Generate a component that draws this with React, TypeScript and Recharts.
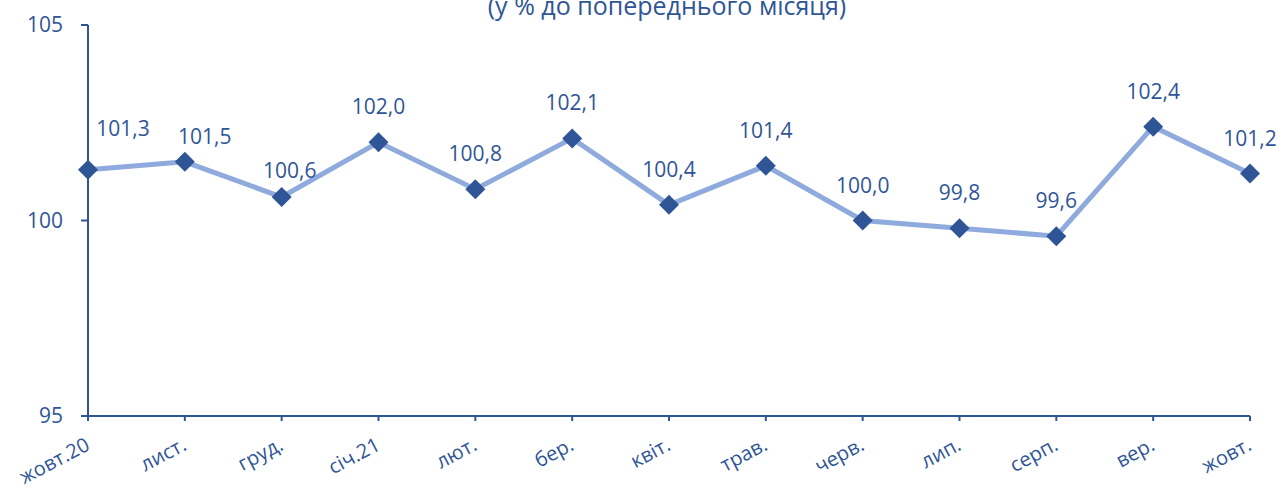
import React from "react"
import { LineChart, Line, XAxis, YAxis, LabelList } from "recharts"

// Індекс місячної зміни (у % до попереднього місяця)
const months = [
  "жовт.20",
  "лист.",
  "груд.",
  "січ.21",
  "лют.",
  "бер.",
  "квіт.",
  "трав.",
  "черв.",
  "лип.",
  "серп.",
  "вер.",
  "жовт.",
]
const values = [101.3, 101.5, 100.6, 102.0, 100.8, 102.1, 100.4, 101.4, 100.0, 99.8, 99.6, 102.4, 101.2]
const yTicks = [95, 100, 105]

const TEXT = "#2F5597"
const LINE = "#8FAADC"
const FONT = "'Open Sans', sans-serif"

// small nudges for labels that Excel pushed aside
const labelNudge: Record<number, { dx: number; dy: number }> = {
  0: { dx: 35, dy: -6 },
  1: { dx: 20, dy: 10 },
  2: { dx: 8, dy: 9 },
}

const data = months.map((m, i) => ({ month: m, value: values[i] }))

const Diamond = (props: any) => {
  const { cx, cy } = props
  if (cx == null || cy == null) return null
  const r = 10
  return (
    <path
      d={`M${cx},${cy - r} L${cx + r},${cy} L${cx},${cy + r} L${cx - r},${cy} Z`}
      fill={TEXT}
    />
  )
}

const ValueLabel = (props: any) => {
  const { x, y, value, index } = props
  const n = labelNudge[index] ?? { dx: 0, dy: 0 }
  return (
    <text
      x={x + n.dx}
      y={y - 28 + n.dy}
      textAnchor="middle"
      fill={TEXT}
      fontSize={21}
      fontFamily={FONT}
    >
      {Number(value).toFixed(1).replace(".", ",")}
    </text>
  )
}

const MonthTick = (props: any) => {
  const { x, y, payload } = props
  return (
    <g transform={`translate(${x + 3},${y + 28})`}>
      <text
        textAnchor="end"
        transform="rotate(-28)"
        fill={TEXT}
        fontSize={20}
        fontFamily={FONT}
      >
        {payload.value}
      </text>
    </g>
  )
}

export default function App() {
  return (
    <div style={{ position: "absolute", left: 0, top: 0, width: 1284, height: 488, background: "#fff", overflow: "hidden" }}>
      <div
        style={{
          position: "absolute",
          left: 0,
          width: 1284,
          top: -10,
          textAlign: "center",
          color: TEXT,
          fontFamily: FONT,
          fontSize: 25,
          lineHeight: "30px",
          paddingLeft: 50,
          boxSizing: "border-box",
        }}
      >
        (у % до попереднього місяця)
      </div>
      <LineChart width={1284} height={488} data={data} margin={{ top: 25, right: 34, bottom: 0, left: 0 }}>
        <XAxis
          dataKey="month"
          interval={0}
          height={72}
          tickSize={5}
          tickMargin={0}
          stroke={TEXT}
          strokeWidth={2}
          tick={<MonthTick />}
          padding={{ left: 0, right: 0 }}
        />
        <YAxis
          domain={[95, 105]}
          ticks={yTicks}
          width={88}
          tickSize={7}
          tickMargin={18}
          stroke={TEXT}
          strokeWidth={2}
          tick={{ fill: TEXT, fontSize: 21, fontFamily: FONT }}
        />
        <Line
          type="linear"
          dataKey="value"
          stroke={LINE}
          strokeWidth={5}
          dot={<Diamond />}
          activeDot={false}
          isAnimationActive={false}
        >
          <LabelList dataKey="value" content={<ValueLabel />} />
        </Line>
      </LineChart>
    </div>
  )
}
